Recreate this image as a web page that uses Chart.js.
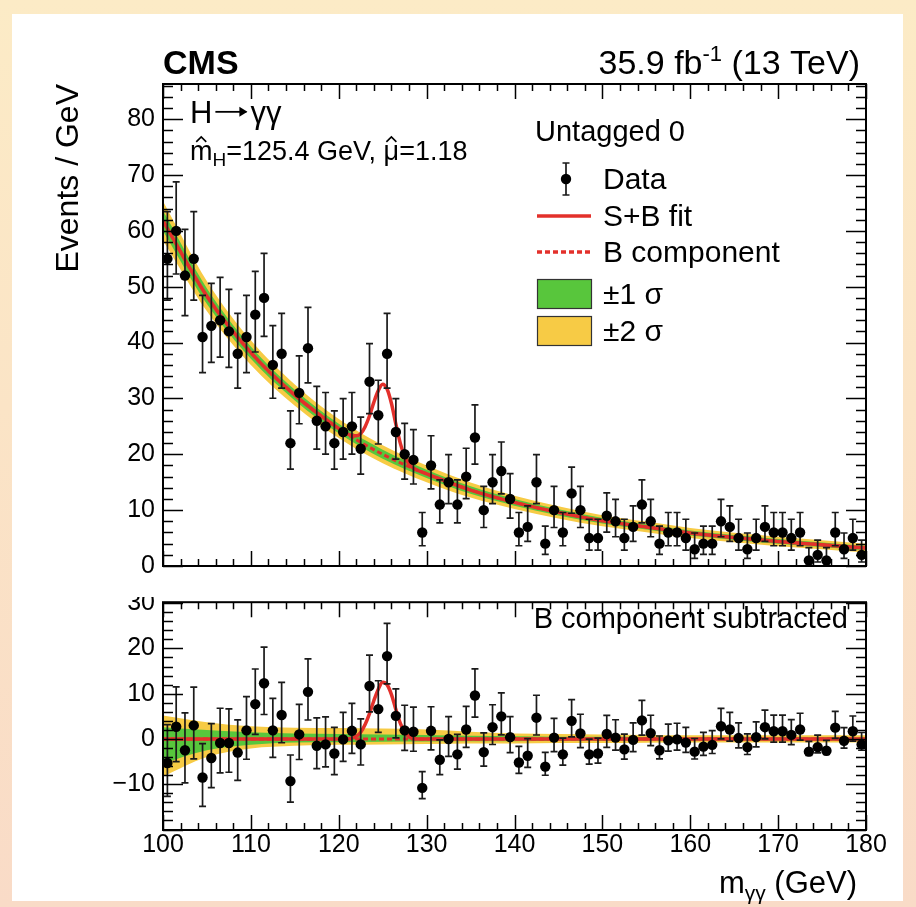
<!DOCTYPE html>
<html>
<head>
<meta charset="utf-8">
<script src="https://cdn.jsdelivr.net/npm/chart.js@4.4.1/dist/chart.umd.min.js"></script>
<style>
html,body{margin:0;padding:0;}
body{width:916px;height:907px;position:relative;overflow:hidden;
 background:linear-gradient(180deg,#fcebc6 0%,#fbe4c6 45%,#f9dbc7 100%);}
#card{position:absolute;left:12px;top:14px;width:891px;height:887px;background:#ffffff;}
#c1{position:absolute;left:0;top:0;}
#c2{position:absolute;left:0;top:597px;}
</style>
</head>
<body>
<div id="card"></div>
<canvas id="c1" width="916" height="592"></canvas>
<canvas id="c2" width="916" height="310"></canvas>
<script>
// ---------------- DATA ----------------
const binCenters = [100.5,101.5,102.5,103.5,104.5,105.5,106.5,107.5,108.5,109.5,
 110.5,111.5,112.5,113.5,114.5,115.5,116.5,117.5,118.5,119.5,
 120.5,121.5,122.5,123.5,124.5,125.5,126.5,127.5,128.5,129.5,
 130.5,131.5,132.5,133.5,134.5,135.5,136.5,137.5,138.5,139.5,
 140.5,141.5,142.5,143.5,144.5,145.5,146.5,147.5,148.5,149.5,
 150.5,151.5,152.5,153.5,154.5,155.5,156.5,157.5,158.5,159.5,
 160.5,161.5,162.5,163.5,164.5,165.5,166.5,167.5,168.5,169.5,
 170.5,171.5,172.5,173.5,174.5,175.5,176.5,177.5,178.5,179.5];

// observed events per GeV
const eventCounts = [55,60,52,55,41,43,44,42,38,41,45,48,36,38,22,31,39,26,25,22,
 24,25,21,33,27,38,24,20,19,6,18,11,15,11,16,23,10,15,17,12,
 6,7,15,4,10,6,13,10,5,5,9,8,5,7,11,8,4,6,6,5,
 3,4,4,8,7,5,3,5,7,6,6,5,6,1,2,1,6,3,5,2];

// data minus B component
const bkgSubtracted = [-5.3,2.7,-2.5,3.0,-8.5,-4.2,-0.9,-0.9,-3.0,1.9,7.7,12.3,1.9,5.3,-9.3,1.0,10.4,-1.5,-1.2,-3.2,
 -0.1,1.8,-1.2,11.7,6.6,18.3,5.1,1.9,1.6,-10.8,1.8,-4.6,0.0,-3.4,2.1,9.6,-2.9,2.6,5.0,0.4,
 -5.2,-3.7,4.7,-6.1,0.3,-3.4,4.0,1.2,-3.4,-3.2,1.1,0.3,-2.3,-0.2,4.1,1.3,-2.5,-0.3,-0.1,-0.8,
 -2.8,-1.7,-1.3,2.8,2.1,0.2,-1.8,0.4,2.6,1.7,1.7,0.9,2.1,-2.8,-1.8,-2.6,2.5,-0.4,1.7,-1.2];

// background fit curve knots
const fitMass = [100,105,110,115,120,125,130,135,140,145,150,155,160,165,170,175,180];
const bkgFit  = [61.8,48.3,38.2,30.6,24.6,20.0,16.5,13.6,11.4,9.6,8.1,7.0,5.9,5.1,4.4,3.8,3.2];

// uncertainty bands (upper panel, symmetric half widths)
const band1Upper = [1.8,1.4,1.1,0.95,0.85,0.8,0.75,0.68,0.6,0.55,0.5,0.48,0.45,0.43,0.42,0.4,0.4];
const band2Upper = [3.5,2.7,2.2,1.9,1.7,1.6,1.5,1.35,1.2,1.1,1.0,0.95,0.9,0.85,0.85,0.8,0.8];
// uncertainty bands (lower panel, asymmetric)
const band1UpLower = [2.6,2.0,1.5,1.2,1.1,1.0,0.9,0.7,0.6,0.5,0.5,0.45,0.4,0.4,0.4,0.4,0.4];
const band1DnLower = [5.4,2.5,1.3,0.8,0.7,0.6,0.55,0.5,0.5,0.45,0.45,0.42,0.4,0.4,0.4,0.4,0.4];
const band2UpLower = [5.2,3.7,2.8,2.5,2.4,2.3,2.1,1.6,1.2,1.1,1.0,0.9,0.8,0.8,0.8,0.8,0.8];
const band2DnLower = [8.3,4.0,2.1,1.5,1.3,1.2,1.1,1.0,1.0,0.9,0.9,0.85,0.8,0.8,0.8,0.8,0.8];

// signal peak region
const sigMass   = [121,121.5,122,122.5,123,123.5,124,124.5,125,125.5,126,126.5,127,127.5,128,128.5,129];
const sigFit    = [0,0.2,0.6,1.5,3.2,5.6,8.5,11.0,12.5,12.0,9.8,6.5,3.5,1.5,0.5,0.1,0];
const sbPeakFit = [23.6,23.4,23.3,23.7,24.95,26.9,29.35,31.4,32.55,31.7,29.1,25.4,22.0,19.6,18.25,17.5,17.1];

// axis ticks
const xTickValues = [100,110,120,130,140,150,160,170,180];
const yTicksUpper = [0,10,20,30,40,50,60,70,80];
const yTicksLower = [-10,0,10,20,30];

// ---------------- STYLE ----------------
const FONT = '"Liberation Sans", Arial, Helvetica, sans-serif';
const RED = '#e3302b', GREEN = '#58c63c', YELLOW = '#f7cb45';

function garwoodLo(n){ if(n<=0) return 0; const a=1-1/(9*n)-1/(3*Math.sqrt(n)); return n-n*a*a*a; }
function garwoodHi(n){ const m=n+1; const a=1-1/(9*m)+1/(3*Math.sqrt(m)); return m*a*a*a-n; }
const errLo = eventCounts.map(garwoodLo);
const errHi = eventCounts.map(garwoodHi);

const pts = (xs, ys) => xs.map((x,i)=>({x:x, y:ys[i]}));
const lowIdx = fitMass.map((m,i)=>i).filter(i=>fitMass[i]<sigMass[0]);
const highIdx = fitMass.map((m,i)=>i).filter(i=>fitMass[i]>sigMass[sigMass.length-1]);

const sbUpperPts = [].concat(lowIdx.map(i=>({x:fitMass[i],y:bkgFit[i]})), pts(sigMass,sbPeakFit), highIdx.map(i=>({x:fitMass[i],y:bkgFit[i]})));
const sLowerPts = [].concat(lowIdx.map(i=>({x:fitMass[i],y:0})), pts(sigMass,sigFit), highIdx.map(i=>({x:fitMass[i],y:0})));

function lineDS(data, extra){
  return Object.assign({data:data, pointRadius:0, borderWidth:0, borderColor:'rgba(0,0,0,0)',
    cubicInterpolationMode:'monotone', fill:false}, extra);
}
function dataDS(ys){
  return {data:pts(binCenters, ys), showLine:false, pointRadius:5.2, pointHoverRadius:5.2,
    pointBackgroundColor:'#000', pointBorderColor:'#000', pointBorderWidth:0, order:0, clip:false,
    errLo:errLo, errHi:errHi};
}

// ---------------- PLUGINS ----------------
const errorBars = {
  id:'errorBars',
  beforeDatasetDraw(chart, args){
    const ds = chart.data.datasets[args.index];
    if(!ds.errLo) return;
    const ctx = chart.ctx, xs = chart.scales.x, ys = chart.scales.y;
    ctx.save(); ctx.strokeStyle='#1a1a1a'; ctx.lineWidth=1.7;
    ds.data.forEach((p,i)=>{
      const x = xs.getPixelForValue(p.x);
      const yT = ys.getPixelForValue(p.y+ds.errHi[i]);
      const yB = ys.getPixelForValue(p.y-ds.errLo[i]);
      ctx.beginPath();
      ctx.moveTo(x,yB); ctx.lineTo(x,yT);
      ctx.moveTo(x-3.5,yB); ctx.lineTo(x+3.5,yB);
      ctx.moveTo(x-3.5,yT); ctx.lineTo(x+3.5,yT);
      ctx.stroke();
    });
    ctx.restore();
  }
};

function frameTicks(yMajor){
  return {
    id:'frameTicks',
    afterDraw(chart){
      const {left,right,top,bottom} = chart.chartArea;
      const ctx = chart.ctx, xs = chart.scales.x, ys = chart.scales.y;
      ctx.save();
      ctx.strokeStyle='#000';
      ctx.lineWidth=1.5;
      ctx.beginPath();
      for(let v=xs.min; v<=xs.max+1e-6; v+=2){
        const x = Math.round(xs.getPixelForValue(v))+0.5;
        const major = xTickValues.indexOf(Math.round(v))>=0;
        const L = major?15:7;
        ctx.moveTo(x,bottom); ctx.lineTo(x,bottom-L);
        ctx.moveTo(x,top); ctx.lineTo(x,top+L);
      }
      const start = Math.ceil(ys.min/2)*2;
      for(let v=start; v<=ys.max+1e-6; v+=2){
        const y = Math.round(ys.getPixelForValue(v))+0.5;
        const major = yMajor.indexOf(v)>=0 || (v%10===0);
        const L = major?20:10;
        ctx.moveTo(left,y); ctx.lineTo(left+L,y);
        ctx.moveTo(right,y); ctx.lineTo(right-L,y);
      }
      ctx.stroke();
      ctx.lineWidth=2;
      ctx.strokeRect(left,top,right-left,bottom-top);
      ctx.restore();
    }
  };
}

function rich(ctx, x, y, parts, align){
  let w=0;
  parts.forEach(p=>{ctx.font=(p.b?'bold ':'')+p.s+'px '+FONT; p.w=p.arrow?p.aw:ctx.measureText(p.t).width; w+=p.w;});
  let cx = align==='right' ? x-w : x;
  ctx.textAlign='left'; ctx.textBaseline='alphabetic';
  parts.forEach(p=>{
    ctx.font=(p.b?'bold ':'')+p.s+'px '+FONT;
    if(p.arrow){
      const ym = y - p.s*0.36;
      ctx.save(); ctx.strokeStyle=ctx.fillStyle; ctx.lineWidth=1.8;
      ctx.beginPath(); ctx.moveTo(cx+3,ym); ctx.lineTo(cx+p.aw-4,ym); ctx.stroke();
      ctx.beginPath(); ctx.moveTo(cx+p.aw-3,ym); ctx.lineTo(cx+p.aw-11,ym-5); ctx.lineTo(cx+p.aw-11,ym+5); ctx.closePath(); ctx.fill();
      ctx.restore();
    } else {
      ctx.fillText(p.t, cx, y+(p.dy||0));
    }
    if(p.hat){
      const c = cx+p.w/2, yb = y-p.s*0.56-3;
      ctx.save(); ctx.lineWidth=1.6; ctx.strokeStyle=ctx.fillStyle;
      ctx.beginPath(); ctx.moveTo(c-5,yb); ctx.lineTo(c,yb-5); ctx.lineTo(c+5,yb); ctx.stroke(); ctx.restore();
    }
    cx+=p.w;
  });
}

const upperText = {
  id:'upperText',
  afterDraw(chart){
    const ctx = chart.ctx;
    ctx.save(); ctx.fillStyle='#000';
    rich(ctx,163,74,[{t:'CMS',s:34,b:true}],'left');
    rich(ctx,860,74,[{t:'35.9 fb',s:34},{t:'-1',s:22,dy:-13},{t:' (13 TeV)',s:34}],'right');
    rich(ctx,190,123,[{t:'H',s:31},{arrow:true,aw:38,s:31},{t:'\u03b3\u03b3',s:31}],'left');
    rich(ctx,190,160,[{t:'m',s:27,hat:true},{t:'H',s:19,dy:6},{t:'=125.4 GeV, ',s:27},{t:'\u03bc',s:27,hat:true},{t:'=1.18',s:27}],'left');
    // legend
    rich(ctx,535,141,[{t:'Untagged 0',s:29}],'left');
    ctx.strokeStyle='#1a1a1a'; ctx.lineWidth=1.7;
    ctx.beginPath(); ctx.moveTo(566,163); ctx.lineTo(566,195);
    ctx.moveTo(562.5,163); ctx.lineTo(569.5,163); ctx.moveTo(562.5,195); ctx.lineTo(569.5,195); ctx.stroke();
    ctx.beginPath(); ctx.arc(566,179,5.2,0,Math.PI*2); ctx.fill();
    rich(ctx,603,189,[{t:'Data',s:30}],'left');
    ctx.strokeStyle=RED; ctx.lineWidth=3.5;
    ctx.beginPath(); ctx.moveTo(537,216); ctx.lineTo(591,216); ctx.stroke();
    rich(ctx,603,226,[{t:'S+B fit',s:30}],'left');
    ctx.setLineDash([5,3]);
    ctx.beginPath(); ctx.moveTo(537,252); ctx.lineTo(591,252); ctx.stroke();
    ctx.setLineDash([]);
    rich(ctx,603,262,[{t:'B component',s:30}],'left');
    ctx.lineWidth=1.2; ctx.strokeStyle='#333';
    ctx.fillStyle=GREEN; ctx.fillRect(537,279,54,29); ctx.strokeRect(537.5,279.5,54,29);
    ctx.fillStyle=YELLOW; ctx.fillRect(537,316,54,29); ctx.strokeRect(537.5,316.5,54,29);
    ctx.fillStyle='#000';
    rich(ctx,603,304,[{t:'\u00b11 \u03c3',s:30}],'left');
    rich(ctx,603,341,[{t:'\u00b12 \u03c3',s:30}],'left');
    ctx.restore();
  }
};

const lowerText = {
  id:'lowerText',
  afterDraw(chart){
    const ctx = chart.ctx;
    ctx.save(); ctx.fillStyle='#000';
    rich(ctx,848,31,[{t:'B component subtracted',s:29}],'right');
    rich(ctx,857,296,[{t:'m',s:31},{t:'\u03b3\u03b3',s:21,dy:7},{t:' (GeV)',s:31}],'right');
    ctx.restore();
  }
};

const tickFont = {family:FONT, size:25};
function noPad(s){ s.paddingTop=0; s.paddingBottom=0; s.paddingLeft=0; s.paddingRight=0; }

// ---------------- UPPER PANEL ----------------
new Chart(document.getElementById('c1'), {
  type:'line',
  data:{datasets:[
    dataDS(eventCounts),
    lineDS(sbUpperPts,{borderColor:RED,borderWidth:3.5,order:1}),
    lineDS(pts(fitMass,bkgFit),{borderColor:RED,borderWidth:3,borderDash:[5,3],order:2}),
    lineDS(pts(fitMass,bkgFit.map((b,i)=>b+band1Upper[i])),{fill:4,backgroundColor:GREEN,order:3}),
    lineDS(pts(fitMass,bkgFit.map((b,i)=>b-band1Upper[i])),{order:4}),
    lineDS(pts(fitMass,bkgFit.map((b,i)=>b+band2Upper[i])),{fill:6,backgroundColor:YELLOW,order:5}),
    lineDS(pts(fitMass,bkgFit.map((b,i)=>b-band2Upper[i])),{order:6})
  ]},
  options:{
    responsive:false, animation:false, events:[],
    layout:{padding:{left:0,right:50,top:84,bottom:26}},
    plugins:{legend:{display:false},tooltip:{enabled:false}},
    scales:{
      x:{type:'linear',min:100,max:180,display:false},
      y:{type:'linear',min:0,max:86.3,
         afterBuildTicks(s){ s.ticks = yTicksUpper.map(v=>({value:v})); },
         afterFit(s){ s.width = 163; noPad(s); },
         grid:{display:false,drawTicks:false}, border:{display:false},
         ticks:{padding:8,color:'#000',font:tickFont,autoSkip:false},
         title:{display:true,text:'Events / GeV',align:'end',color:'#000',
                font:{family:FONT,size:32},padding:{top:50,bottom:0}}
      }
    }
  },
  plugins:[errorBars, frameTicks(yTicksUpper), upperText]
});

// ---------------- LOWER PANEL ----------------
new Chart(document.getElementById('c2'), {
  type:'line',
  data:{datasets:[
    dataDS(bkgSubtracted),
    lineDS(sLowerPts,{borderColor:RED,borderWidth:3.5,order:1}),
    lineDS(pts(fitMass,fitMass.map(()=>0)),{borderColor:RED,borderWidth:3,borderDash:[5,3],order:2}),
    lineDS(pts(fitMass,band1UpLower),{fill:4,backgroundColor:GREEN,order:3}),
    lineDS(pts(fitMass,band1DnLower.map(v=>-v)),{order:4}),
    lineDS(pts(fitMass,band2UpLower),{fill:6,backgroundColor:YELLOW,order:5}),
    lineDS(pts(fitMass,band2DnLower.map(v=>-v)),{order:6})
  ]},
  options:{
    responsive:false, animation:false, events:[],
    layout:{padding:{left:0,right:50,top:3,bottom:0}},
    plugins:{legend:{display:false},tooltip:{enabled:false}},
    scales:{
      x:{type:'linear',min:100,max:180,
         afterBuildTicks(s){ s.ticks = xTickValues.map(v=>({value:v})); },
         afterFit(s){ s.height = 77; noPad(s); },
         grid:{display:false,drawTicks:false}, border:{display:false},
         ticks:{padding:0,maxRotation:0,autoSkip:false,color:'#000',font:tickFont}
      },
      y:{type:'linear',min:-20.1,max:30.2,
         afterBuildTicks(s){ s.ticks = yTicksLower.map(v=>({value:v})); },
         afterFit(s){ s.width = 163; noPad(s); },
         grid:{display:false,drawTicks:false}, border:{display:false},
         ticks:{padding:8,color:'#000',font:tickFont,autoSkip:false,
                callback:(v)=> v<0 ? '\u2212'+Math.abs(v) : String(v)}
      }
    }
  },
  plugins:[errorBars, frameTicks(yTicksLower), lowerText]
});
</script>
</body>
</html>
